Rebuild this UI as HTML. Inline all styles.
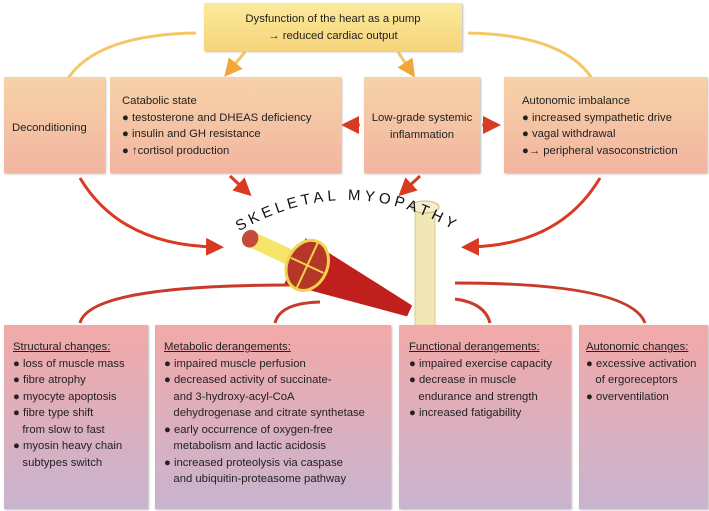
<!DOCTYPE html>
<html><head><style>
body{margin:0;width:709px;height:511px;background:#fff;position:relative;overflow:hidden;font-family:"Liberation Sans",sans-serif;color:#222}
.b{position:absolute;box-sizing:border-box;font-size:11.3px;line-height:16.5px}
.m{background:linear-gradient(#f7d2a8,#f2b5a0);box-shadow:1px 1px 2px #bbb}
.l{background:linear-gradient(#f2a9a8,#c8b4cf);box-shadow:1px 1px 2px #bbb}
u{text-decoration:underline}
p{margin:0}
</style></head><body>
<svg width="709" height="511" style="position:absolute;left:0;top:0">
<defs>
<marker id="y" markerWidth="6" markerHeight="6" refX="3" refY="3" orient="auto"><path d="M0,0L6,3L0,6z" fill="#f0a63a"/></marker>
<marker id="r" markerWidth="6" markerHeight="6" refX="3" refY="3" orient="auto"><path d="M0,0L6,3L0,6z" fill="#d93a22"/></marker>
<path id="arc" d="M225,240 Q348,160 470,240"/>
</defs>
<g fill="none" stroke-width="3">
<path d="M196,33 Q80,35 60,95" stroke="#f3c766" marker-end="url(#y)"/>
<path d="M245,52 L230,70" stroke="#f3c766" marker-end="url(#y)"/>
<path d="M398,52 L410,70" stroke="#f3c766" marker-end="url(#y)"/>
<path d="M468,33 Q580,35 600,95" stroke="#f3c766" marker-end="url(#y)"/>
<path d="M360,125 L350,125" stroke="#e8754a" marker-end="url(#r)"/>
<path d="M482,125 L492,125" stroke="#e8754a" marker-end="url(#r)"/>
<path d="M80,178 Q120,245 215,247" stroke="#d93a22" marker-end="url(#r)"/>
<path d="M230,176 L245,190" stroke="#d93a22" marker-end="url(#r)"/>
<path d="M420,176 L405,190" stroke="#d93a22" marker-end="url(#r)"/>
<path d="M600,178 Q560,245 470,247" stroke="#d93a22" marker-end="url(#r)"/>
<path d="M80,323 Q90,285 290,285" stroke="#c93a2a"/>
<path d="M275,323 Q280,303 320,302" stroke="#c93a2a"/>
<path d="M490,323 Q485,303 455,299" stroke="#c93a2a"/>
<path d="M645,323 Q630,283 455,283" stroke="#c93a2a"/>
</g>
<g transform="rotate(25 300 262)">
<polygon points="295,238 420,254 420,266 295,288" fill="#c0201d"/>
<rect x="240" y="254" width="60" height="16" fill="#f6e56a"/>
<ellipse cx="308" cy="262" rx="20" ry="26" fill="#b5372a" stroke="#f2d44a" stroke-width="3"/>
<path d="M308,236 V288 M290,262 H326" stroke="#f2d44a" stroke-width="2"/>
<ellipse cx="245" cy="262" rx="8" ry="9" fill="#c44a3a"/>
</g>
<rect x="415" y="205" width="20" height="130" rx="8" fill="#f1e6b6" stroke="#d9c98c"/>
<ellipse cx="425" cy="207" rx="14" ry="6" fill="#f5efd0" stroke="#cbb77a"/>
<text font-family="Liberation Sans" font-size="15" letter-spacing="4" fill="#111" text-anchor="middle"><textPath href="#arc" startOffset="50%">SKELETAL MYOPATHY</textPath></text>
</svg>
<div class="b" style="left:204px;top:3px;width:258px;height:48px;background:linear-gradient(#fbea9c,#f6d47a);text-align:center;padding-top:8px;box-shadow:1px 1px 2px #bbb">Dysfunction of the heart as a pump<br>→ reduced cardiac output</div>
<div class="b m" style="left:4px;top:77px;width:101px;height:96px;padding:43px 0 0 8px">Deconditioning</div>
<div class="b m" style="left:110px;top:77px;width:231px;height:96px;padding:16px 0 0 12px">Catabolic state<br>● testosterone and DHEAS deficiency<br>● insulin and GH resistance<br>● ↑cortisol production</div>
<div class="b m" style="left:364px;top:77px;width:116px;height:96px;padding:33px 0 0 0;text-align:center">Low-grade systemic<br>inflammation</div>
<div class="b m" style="left:504px;top:77px;width:203px;height:96px;padding:16px 0 0 18px">Autonomic imbalance<br>● increased sympathetic drive<br>● vagal withdrawal<br>●→ peripheral vasoconstriction</div>
<div class="b l" style="left:4px;top:325px;width:144px;height:184px;padding:14px 0 0 9px"><u>Structural changes:</u><br>● loss of muscle mass<br>● fibre atrophy<br>● myocyte apoptosis<br>● fibre type shift<br>&nbsp;&nbsp;&nbsp;from slow to fast<br>● myosin heavy chain<br>&nbsp;&nbsp;&nbsp;subtypes switch</div>
<div class="b l" style="left:155px;top:325px;width:236px;height:184px;padding:14px 0 0 9px"><u>Metabolic derangements:</u><br>● impaired muscle perfusion<br>● decreased activity of succinate-<br>&nbsp;&nbsp;&nbsp;and 3-hydroxy-acyl-CoA<br>&nbsp;&nbsp;&nbsp;dehydrogenase and citrate synthetase<br>● early occurrence of oxygen-free<br>&nbsp;&nbsp;&nbsp;metabolism and lactic acidosis<br>● increased proteolysis via caspase<br>&nbsp;&nbsp;&nbsp;and ubiquitin-proteasome pathway</div>
<div class="b l" style="left:399px;top:325px;width:172px;height:184px;padding:14px 0 0 10px"><u>Functional derangements:</u><br>● impaired exercise capacity<br>● decrease in muscle<br>&nbsp;&nbsp;&nbsp;endurance and strength<br>● increased fatigability</div>
<div class="b l" style="left:579px;top:325px;width:129px;height:184px;padding:14px 0 0 7px"><u>Autonomic changes:</u><br>● excessive activation<br>&nbsp;&nbsp;&nbsp;of ergoreceptors<br>● overventilation</div>
</body></html>
